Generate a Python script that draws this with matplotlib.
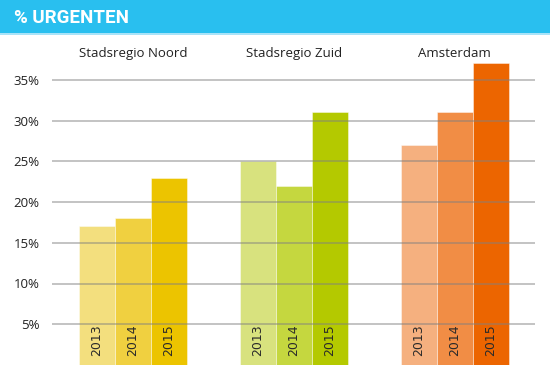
import numpy as np
import matplotlib
matplotlib.use('Agg')
import matplotlib.pyplot as plt
from matplotlib.patches import Rectangle

# data
regions = ['Stadsregio Noord', 'Stadsregio Zuid', 'Amsterdam']
years = ['2013', '2014', '2015']
noord = [17, 18, 23]
zuid = [25, 22, 31]
amsterdam = [27, 31, 37]
yticks = [5, 10, 15, 20, 25, 30, 35]

colors = [
    ['#F3DF7E', '#F0D040', '#ECC400'],
    ['#D8E27E', '#C5D73F', '#B4C900'],
    ['#F5B07F', '#F18D45', '#EC6500'],
]

plt.rcParams['font.family'] = ['Open Sans', 'DejaVu Sans']

fig = plt.figure(figsize=(5.5, 3.71), dpi=100)

# header band
fig.patches.append(Rectangle((0, 1 - 33 / 371), 1, 33 / 371, transform=fig.transFigure,
                             facecolor='#29BFEF', edgecolor='none', zorder=0))
fig.patches.append(Rectangle((0, 1 - 35 / 371), 1, 2 / 371, transform=fig.transFigure,
                             facecolor='#A9E3F8', edgecolor='none', zorder=0))
fig.text(14 / 550, 1 - 18 / 371, '% URGENTEN', color='white', fontsize=13.5,
         fontweight='bold', family=['Roboto', 'DejaVu Sans'],
         va='center', ha='left')

ax = fig.add_axes([52 / 550, 6 / 371, 483 / 550, 326 / 371])

gap = 4.47
for g, vals in enumerate([noord, zuid, amsterdam]):
    center = g * gap
    for j, v in enumerate(vals):
        xc = center + (j - 1)
        ax.bar(xc, v, width=1.0, color=colors[g][j], edgecolor=(1, 1, 1, 0.5),
               linewidth=0.6, zorder=1)
        ax.text(xc, 1.1, years[j], rotation=90, ha='center', va='bottom',
                fontsize=9, color='#2a2a2a', family='DejaVu Sans', zorder=3)
    ax.text(center, 38.2, regions[g], ha='center', va='center', fontsize=9.5,
            color='#222222', clip_on=False)

for t in yticks:
    ax.axhline(t, color='#808080', alpha=0.6, lw=1.1, zorder=2)

ax.set_xlim(-2.25, 11.17)
ax.set_ylim(0, 40)
ax.set_yticks(yticks)
ax.set_yticklabels([f'{t}%' for t in yticks], fontsize=9.5, color='#222222')
ax.tick_params(axis='y', length=0, pad=9)
ax.set_xticks([])
for s in ax.spines.values():
    s.set_visible(False)

fig.savefig('out.png', dpi=100)
